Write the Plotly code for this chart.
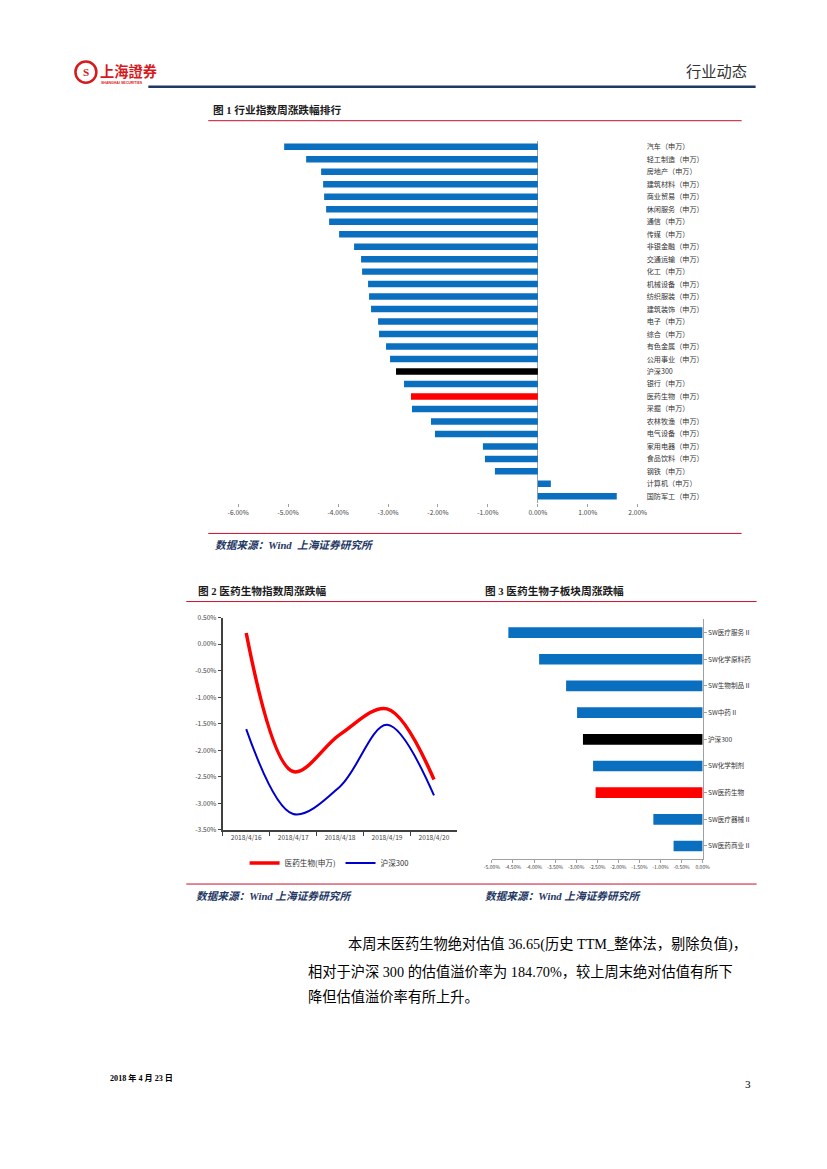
import plotly.graph_objects as go

W, H = 827, 1169

# ---------------- data ----------------
fig1_categories = ["汽车（申万）", "轻工制造（申万）", "房地产（申万）", "建筑材料（申万）", "商业贸易（申万）",
                   "休闲服务（申万）", "通信（申万）", "传媒（申万）", "非银金融（申万）", "交通运输（申万）",
                   "化工（申万）", "机械设备（申万）", "纺织服装（申万）", "建筑装饰（申万）", "电子（申万）",
                   "综合（申万）", "有色金属（申万）", "公用事业（申万）", "沪深300", "银行（申万）",
                   "医药生物（申万）", "采掘（申万）", "农林牧渔（申万）", "电气设备（申万）", "家用电器（申万）",
                   "食品饮料（申万）", "钢铁（申万）", "计算机（申万）", "国防军工（申万）"]
fig1_values = [-5.08, -4.64, -4.34, -4.30, -4.28, -4.24, -4.18, -3.98, -3.68, -3.54,
               -3.52, -3.40, -3.38, -3.34, -3.20, -3.18, -3.04, -2.96, -2.84, -2.68,
               -2.54, -2.52, -2.14, -2.06, -1.10, -1.06, -0.86, 0.26, 1.58]
fig1_xticks = [-6, -5, -4, -3, -2, -1, 0, 1, 2]

fig2_dates = ["2018/4/16", "2018/4/17", "2018/4/18", "2018/4/19", "2018/4/20"]
fig2_pharma = [0.21, -2.40, -1.70, -1.22, -2.55]
fig2_hs300 = [-1.60, -3.20, -2.68, -1.52, -2.85]
fig2_yticks = [0.5, 0.0, -0.5, -1.0, -1.5, -2.0, -2.5, -3.0, -3.5]

fig3_categories = ["SW医疗服务Ⅱ", "SW化学原料药", "SW生物制品Ⅱ", "SW中药Ⅱ", "沪深300",
                   "SW化学制剂", "SW医药生物", "SW医疗器械Ⅱ", "SW医药商业Ⅱ"]
fig3_values = [-4.61, -3.88, -3.24, -2.98, -2.84, -2.60, -2.54, -1.17, -0.69]
fig3_xticks = [-5.0, -4.5, -4.0, -3.5, -3.0, -2.5, -2.0, -1.5, -1.0, -0.5, 0.0]

BLUE = "#0B6FBF"
def bar_colors(cats):
    out = []
    for c in cats:
        if "沪深300" in c:
            out.append("#000000")
        elif "医药生物" in c:
            out.append("#FF0000")
        else:
            out.append(BLUE)
    return out

# page -> paper mapping (compensates for the way the page is photographed)
SX, OX = 0.977, 9.5
SY, OY = 0.9897, 6.5

def px(x):
    return ((x - OX) / SX) / W

def py(y):
    return 1 - ((y - OY) / SY) / H

def fs(s):
    return round(s / 0.983, 2)

CJK = "Noto Sans CJK SC"
SERIF = "Liberation Serif, Noto Sans CJK SC"

fig = go.Figure()

fig.add_trace(go.Bar(x=fig1_values, y=fig1_categories, orientation="h", width=0.52,
                     marker=dict(color=bar_colors(fig1_categories), line=dict(width=0)),
                     xaxis="x", yaxis="y", showlegend=False))

fig.add_trace(go.Scatter(x=fig2_dates, y=fig2_pharma, mode="lines", name="医药生物(申万)",
                         line=dict(color="#FF0000", width=3.5, shape="spline", smoothing=1.0),
                         xaxis="x2", yaxis="y2"))
fig.add_trace(go.Scatter(x=fig2_dates, y=fig2_hs300, mode="lines", name="沪深300",
                         line=dict(color="#0000CC", width=2, shape="spline", smoothing=1.0),
                         xaxis="x2", yaxis="y2"))

fig.add_trace(go.Bar(x=fig3_values, y=fig3_categories, orientation="h", width=0.4,
                     marker=dict(color=bar_colors(fig3_categories), line=dict(width=0)),
                     xaxis="x3", yaxis="y3", showlegend=False))

tickfont_small = dict(family=CJK, size=fs(6.5), color="#444444")

fig.update_layout(
    width=W, height=H, autosize=False,
    margin=dict(l=0, r=0, t=0, b=0),
    paper_bgcolor="white", plot_bgcolor="rgba(0,0,0,0)",
    xaxis=dict(domain=[px(237), px(637)], range=[-6, 2], anchor="y",
               tickvals=fig1_xticks, ticktext=[f"{v:.2f}%" for v in fig1_xticks],
               showgrid=False, zeroline=True, zerolinecolor="#A0A0A0", zerolinewidth=1,
               ticks="outside", ticklen=3, tickcolor="#A0A0A0", showline=False,
               tickfont=tickfont_small),
    yaxis=dict(domain=[py(502.2), py(140.8)], type="category", categoryarray=fig1_categories,
               range=[len(fig1_categories) - 0.5, -0.5], anchor="x", side="right",
               showgrid=False, showline=False, ticks="", ticklabelstandoff=8,
               tickfont=dict(family=CJK, size=fs(7), color="#333333")),
    xaxis2=dict(domain=[px(221.5), px(456.5)], type="category", range=[-0.5, 4.5], anchor="y2",
                showgrid=False, showline=True, linecolor="#404040", linewidth=2,
                ticks="outside", ticklen=4, tickcolor="#404040", tickson="boundaries",
                tickfont=tickfont_small),
    yaxis2=dict(domain=[py(829), py(617)], range=[-3.5, 0.5], anchor="x2",
                tickvals=fig2_yticks, ticktext=[f"{v:.2f}%" for v in fig2_yticks],
                showgrid=False, zeroline=False, showline=True, linecolor="#404040", linewidth=2,
                ticks="outside", ticklen=3, tickcolor="#404040", tickfont=tickfont_small),
    xaxis3=dict(domain=[px(491), px(702)], range=[-5, 0], anchor="y3",
                tickvals=fig3_xticks, ticktext=[f"{v:.2f}%" for v in fig3_xticks],
                showgrid=False, zeroline=False, showline=True, linecolor="#A0A0A0", linewidth=1,
                ticks="outside", ticklen=3, tickcolor="#A0A0A0",
                tickfont=dict(family=CJK, size=fs(5), color="#444444")),
    yaxis3=dict(domain=[py(858.3), py(618.7)], type="category", categoryarray=fig3_categories,
                range=[len(fig3_categories) - 0.5, -0.5], anchor="x3", side="right",
                showgrid=False, showline=True, linecolor="#A0A0A0", linewidth=1,
                ticks="outside", ticklen=3, tickcolor="#A0A0A0",
                tickfont=dict(family=CJK, size=fs(6.5), color="#333333")),
    legend=dict(orientation="h", x=px(328), y=py(862), xanchor="center", yanchor="middle",
                font=dict(family=CJK, size=fs(7.5), color="#333333"), bgcolor="rgba(0,0,0,0)",
                itemwidth=30, tracegroupgap=0),
)

shapes = []
annotations = []

def hline(x0, x1, y, color, width):
    shapes.append(dict(type="line", xref="paper", yref="paper", x0=px(x0), x1=px(x1),
                       y0=py(y), y1=py(y), line=dict(color=color, width=width)))

def text(x, y, s, size, color="#000000", family=CJK, bold=False, italic=False, anchor="left"):
    if bold:
        s = f"<b>{s}</b>"
    if italic:
        s = f"<i>{s}</i>"
    annotations.append(dict(x=px(x), y=py(y), xref="paper", yref="paper", text=s, showarrow=False,
                            xanchor=anchor, yanchor="middle",
                            font=dict(size=fs(size), color=color, family=family)))

# header
shapes.append(dict(type="circle", xref="paper", yref="paper", x0=px(74), x1=px(95), y0=py(83), y1=py(62),
                   line=dict(color="#D7191C", width=2.5), fillcolor="white"))
text(84.5, 72.5, "<b>S</b>", 11, "#D7191C", "Liberation Serif", anchor="center")
text(97, 71, "上海證券", 14, "#D7191C", CJK, bold=True)
text(98, 83, "SHANGHAI SECURITIES", 3.5, "#D7191C", "Liberation Sans", bold=True)
text(748, 70, "行业动态", 15, "#333333", CJK, anchor="right")
hline(147, 755, 87, "#1F3864", 2.5)

text(210, 110, "图 1 行业指数周涨跌幅排行", 10.5, "#1a1a1a", SERIF, bold=True)
hline(207, 741, 121, "#C8102E", 1)
hline(207, 741, 533, "#C8102E", 1)
text(212, 545, "数据来源：Wind  上海证券研究所", 10.5, "#1F3864", SERIF, bold=True, italic=True)

text(195, 590, "图 2 医药生物指数周涨跌幅", 10.5, "#1a1a1a", SERIF, bold=True)
text(482, 590, "图 3 医药生物子板块周涨跌幅", 10.5, "#1a1a1a", SERIF, bold=True)
hline(185, 756, 601, "#C8102E", 1)
hline(185, 756, 883, "#C8102E", 1)
text(193, 895, "数据来源：Wind 上海证券研究所", 10.5, "#1F3864", SERIF, bold=True, italic=True)
text(482, 895, "数据来源：Wind 上海证券研究所", 10.5, "#1F3864", SERIF, bold=True, italic=True)

text(345, 943, "本周末医药生物绝对估值 36.65(历史 TTM_整体法，剔除负值)，", 14, "#000000", SERIF)
text(305, 970, "相对于沪深 300 的估值溢价率为 184.70%，较上周末绝对估值有所下", 14, "#000000", SERIF)
text(305, 996, "降但估值溢价率有所上升。", 14, "#000000", SERIF)

text(107, 1077, "2018 年 4 月 23 日", 8, "#000000", SERIF, bold=True)
text(752, 1083, "3", 11, "#000000", "Liberation Serif", anchor="right")

fig.update_layout(shapes=shapes, annotations=annotations)
fig.write_html("out.html", config={"displayModeBar": False, "responsive": False},
               post_script="document.body.style.margin='0';document.body.style.overflow='hidden';")
